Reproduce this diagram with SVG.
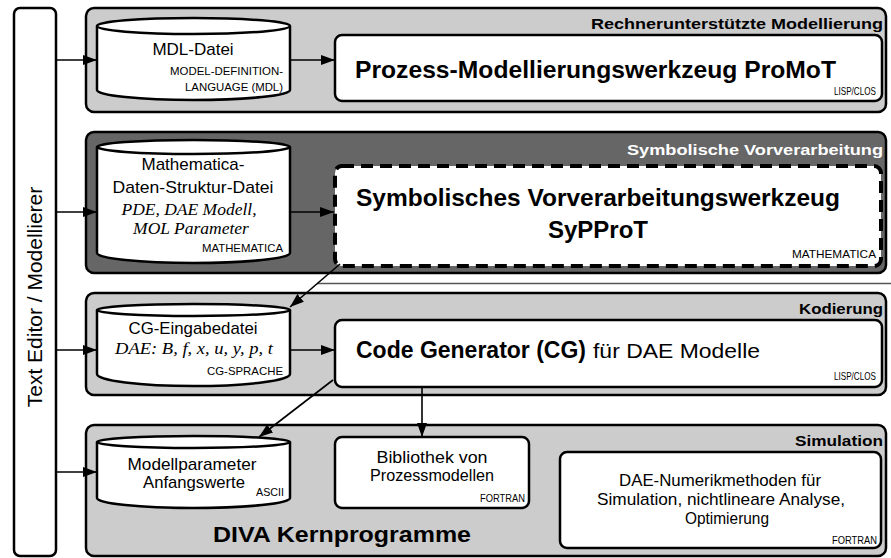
<svg xmlns="http://www.w3.org/2000/svg" width="891" height="558" viewBox="0 0 891 558">
<defs>
<marker id="ah" markerUnits="userSpaceOnUse" markerWidth="14" markerHeight="10" refX="14" refY="5" orient="auto">
<path d="M0,0 L14,5 L0,10 z" fill="#000"/>
</marker>
<style>
.band{fill:#cccccc;stroke:#000;stroke-width:2.5}
.dark{fill:#666666;stroke:#000;stroke-width:2.5}
.box{fill:#fff;stroke:#000;stroke-width:2.5}
.dash{fill:#fff;stroke:#000;stroke-width:4;stroke-dasharray:12 7}
.cyl{fill:#fff;stroke:#000;stroke-width:2.5}
.conn{stroke:#000;stroke-width:1.6;fill:none;marker-end:url(#ah)}
text{font-family:"Liberation Sans",Arial,sans-serif;fill:#000}
.title{font-size:15px;font-weight:bold;text-anchor:end}
.big{font-size:24px;font-weight:bold}
.small{font-size:11px;text-anchor:end}
.cl{font-size:17px;text-anchor:middle}
.it{font-family:"Liberation Serif","Times New Roman",serif;font-style:italic;font-size:17.5px;text-anchor:middle}
</style>
</defs>

<g id="texteditor">
<rect x="14" y="8" width="42" height="548" rx="6" class="box"/>
<text transform="translate(42,297) rotate(-90)" font-size="21" text-anchor="middle">Text Editor / Modellierer</text>
</g>

<g id="band1">
<rect x="86" y="8" width="800" height="104" rx="8" class="band"/>
<text x="883" y="29" class="title" textLength="292" lengthAdjust="spacingAndGlyphs">Rechnerunterstützte Modellierung</text>
</g>
<g id="band2">
<rect x="86" y="132" width="800" height="141" rx="8" class="dark"/>
<text x="883" y="155" class="title" style="fill:#fff" textLength="256" lengthAdjust="spacingAndGlyphs">Symbolische Vorverarbeitung</text>
</g>
<line x1="317" y1="283.5" x2="891" y2="283.5" stroke="#555" stroke-width="1.5"/>
<g id="band3">
<rect x="86" y="293" width="800" height="102" rx="8" class="band"/>
<text x="883" y="314" class="title" textLength="84" lengthAdjust="spacingAndGlyphs">Kodierung</text>
</g>
<g id="band4">
<rect x="86" y="425" width="800" height="131" rx="8" class="band"/>
<text x="883" y="446" class="title" textLength="88" lengthAdjust="spacingAndGlyphs">Simulation</text>
<text x="213" y="542" font-size="22" font-weight="bold" textLength="258" lengthAdjust="spacingAndGlyphs">DIVA  Kernprogramme</text>
</g>

<g id="mdl">
<path d="M97,26 L97,90 A96.5,10 0 0 0 290,90 L290,26" class="cyl"/>
<ellipse cx="193.5" cy="26" rx="96.5" ry="8" class="cyl"/>
<text x="193" y="55" class="cl" font-size="18">MDL-Datei</text>
<text x="283" y="75" class="small" textLength="113" lengthAdjust="spacingAndGlyphs">MODEL-DEFINITION-</text>
<text x="283" y="91" class="small" textLength="98" lengthAdjust="spacingAndGlyphs">LANGUAGE (MDL)</text>
</g>
<g id="promot">
<rect x="335" y="35" width="547" height="66" rx="7" class="box"/>
<text x="355" y="78" class="big" textLength="481" lengthAdjust="spacingAndGlyphs">Prozess-Modellierungswerkzeug ProMoT</text>
<text x="876" y="95" class="small" font-size="10" textLength="42" lengthAdjust="spacingAndGlyphs">LISP/CLOS</text>
</g>

<g id="mathdatei">
<path d="M97,147 L97,253 A96.5,10 0 0 0 290,253 L290,147" class="cyl"/>
<ellipse cx="193.5" cy="147" rx="96.5" ry="7" class="cyl"/>
<text x="193" y="170" class="cl" font-size="17.5">Mathematica-</text>
<text x="193" y="193" class="cl" font-size="17.5" textLength="161" lengthAdjust="spacingAndGlyphs">Daten-Struktur-Datei</text>
<text x="189" y="215" class="it">PDE, DAE Modell,</text>
<text x="191" y="234" class="it">MOL Parameter</text>
<text x="283" y="252" class="small" textLength="81" lengthAdjust="spacingAndGlyphs">MATHEMATICA</text>
</g>
<g id="syppro">
<rect x="335" y="166" width="546" height="100" rx="7" class="dash"/>
<text x="598" y="206" class="big" text-anchor="middle" textLength="484" lengthAdjust="spacingAndGlyphs">Symbolisches Vorverarbeitungswerkzeug</text>
<text x="598" y="238" class="big" text-anchor="middle">SyPProT</text>
<text x="876" y="258" class="small" textLength="84" lengthAdjust="spacingAndGlyphs">MATHEMATICA</text>
</g>

<g id="cgdatei">
<path d="M97,310 L97,374 A96.5,12 0 0 0 290,374 L290,310" class="cyl"/>
<ellipse cx="193.5" cy="310" rx="96.5" ry="6" class="cyl"/>
<text x="193" y="334" class="cl" textLength="129" lengthAdjust="spacingAndGlyphs">CG-Eingabedatei</text>
<text x="194" y="354" class="it" font-size="17" textLength="158" lengthAdjust="spacingAndGlyphs">DAE: B, f, x, u, y, p, t</text>
<text x="283" y="375" class="small" textLength="76" lengthAdjust="spacingAndGlyphs">CG-SPRACHE</text>
</g>
<g id="cg">
<rect x="335" y="320" width="547" height="67" rx="7" class="box"/>
<text x="356" y="358" class="big" font-size="23" textLength="230" lengthAdjust="spacingAndGlyphs">Code Generator (CG)</text>
<text x="593" y="358" font-size="21" textLength="167" lengthAdjust="spacingAndGlyphs">für DAE Modelle</text>
<text x="876" y="380" class="small" font-size="10" textLength="42" lengthAdjust="spacingAndGlyphs">LISP/CLOS</text>
</g>

<g id="modellparameter">
<path d="M97,442 L97,498 A96.5,10 0 0 0 290,498 L290,442" class="cyl"/>
<ellipse cx="193.5" cy="442" rx="96.5" ry="6" class="cyl"/>
<text x="192" y="470" class="cl" textLength="129" lengthAdjust="spacingAndGlyphs">Modellparameter</text>
<text x="194" y="488" class="cl" textLength="102" lengthAdjust="spacingAndGlyphs">Anfangswerte</text>
<text x="284" y="496" class="small" font-size="10" textLength="28" lengthAdjust="spacingAndGlyphs">ASCII</text>
</g>
<g id="bibliothek">
<rect x="335" y="437" width="194" height="71" rx="7" class="box"/>
<text x="432" y="463" class="cl" font-size="16" textLength="111" lengthAdjust="spacingAndGlyphs">Bibliothek von</text>
<text x="432" y="481" class="cl" font-size="16" textLength="124" lengthAdjust="spacingAndGlyphs">Prozessmodellen</text>
<text x="525" y="502" class="small" textLength="45" lengthAdjust="spacingAndGlyphs">FORTRAN</text>
</g>
<g id="daenumerik">
<rect x="560" y="452" width="321" height="96" rx="7" class="box"/>
<text x="720" y="486" class="cl" font-size="16" textLength="202" lengthAdjust="spacingAndGlyphs">DAE-Numerikmethoden für</text>
<text x="721" y="505" class="cl" font-size="16" textLength="248" lengthAdjust="spacingAndGlyphs">Simulation, nichtlineare Analyse,</text>
<text x="727" y="524" class="cl" font-size="16" textLength="84" lengthAdjust="spacingAndGlyphs">Optimierung</text>
<text x="877" y="544" class="small" textLength="45" lengthAdjust="spacingAndGlyphs">FORTRAN</text>
</g>

<g id="connectors">
<line x1="56" y1="60" x2="97" y2="60" class="conn"/>
<line x1="290" y1="60" x2="335" y2="60" class="conn"/>
<line x1="56" y1="212" x2="97" y2="212" class="conn"/>
<line x1="290" y1="212" x2="334" y2="212" class="conn"/>
<line x1="340" y1="264" x2="290" y2="307" class="conn"/>
<line x1="56" y1="350" x2="97" y2="350" class="conn"/>
<line x1="290" y1="350" x2="335" y2="350" class="conn"/>
<line x1="422" y1="387" x2="422" y2="437" class="conn"/>
<line x1="333" y1="380" x2="259" y2="437" class="conn"/>
<line x1="56" y1="472" x2="97" y2="472" class="conn"/>
</g>
</svg>
